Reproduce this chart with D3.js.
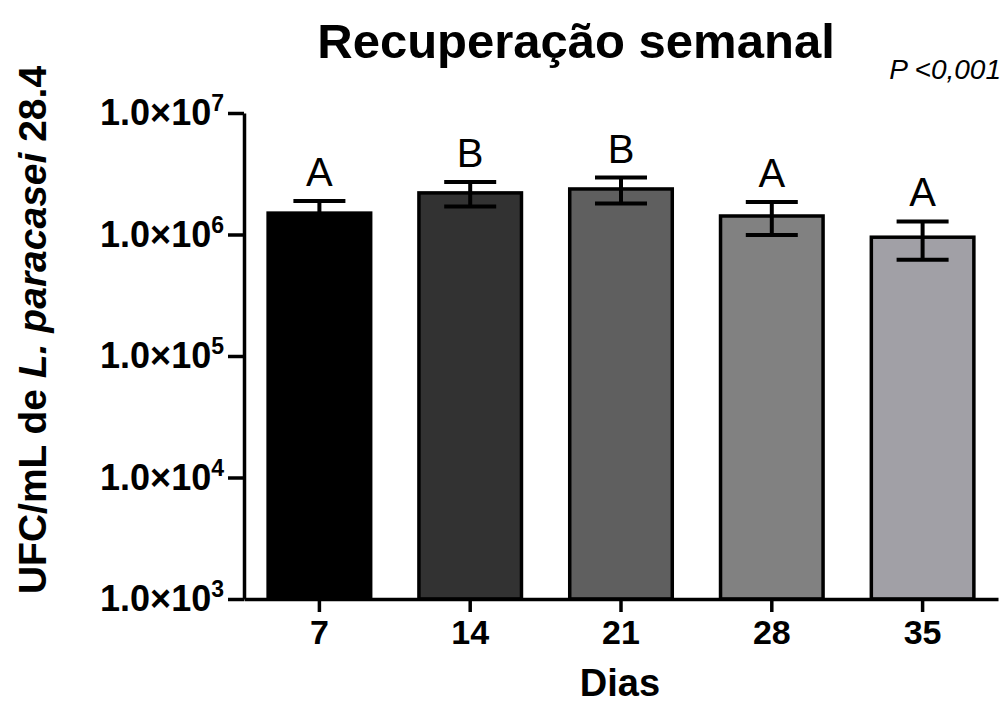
<!DOCTYPE html>
<html>
<head>
<meta charset="utf-8">
<script src="https://cdn.jsdelivr.net/npm/d3@7"></script>
<style>
  body { margin: 0; background: #fff; }
  svg { font-family: "Liberation Sans", Arial, sans-serif; }
</style>
</head>
<body>
<div id="grafico"></div>
<script>
// ----- datos -----
const dias = ["7", "14", "21", "28", "35"];
const medias = [1.50e6, 2.20e6, 2.37e6, 1.42e6, 0.95e6];
const desvios = [0.39e6, 0.50e6, 0.57e6, 0.43e6, 0.33e6];
const letras = ["A", "B", "B", "A", "A"];
const cores = ["#000000", "#323232", "#5f5f5f", "#818181", "#a1a0a6"];
const potencias = [3, 4, 5, 6, 7];

const width = 1003, height = 706;
const margin = { left: 244, right: 5, top: 113, bottom: 107 };

const svg = d3.select("#grafico")
  .append("svg")
  .attr("width", width)
  .attr("height", height);

const xScale = d3.scaleBand()
  .domain(dias)
  .range([margin.left, width - margin.right])
  .paddingInner(0.32)
  .paddingOuter(0.16);

const yScale = d3.scaleLog()
  .domain([1e3, 1e7])
  .range([height - margin.bottom, margin.top]);

// barras
svg.selectAll("rect.barra")
  .data(dias)
  .enter()
  .append("rect")
  .attr("class", "barra")
  .attr("x", d => xScale(d))
  .attr("y", (d, i) => yScale(medias[i]))
  .attr("width", xScale.bandwidth())
  .attr("height", (d, i) => yScale(1e3) - yScale(medias[i]))
  .attr("fill", (d, i) => cores[i])
  .attr("stroke", "#000")
  .attr("stroke-width", 3.5);

// barras de erro
const capW = 26;
dias.forEach((d, i) => {
  const cx = xScale(d) + xScale.bandwidth() / 2;
  const yTop = yScale(medias[i] + desvios[i]);
  const yBot = yScale(medias[i] - desvios[i]);
  const g = svg.append("g").attr("stroke", "#000").attr("stroke-width", 4);
  g.append("line").attr("x1", cx).attr("x2", cx).attr("y1", yTop).attr("y2", yBot);
  g.append("line").attr("x1", cx - capW).attr("x2", cx + capW).attr("y1", yTop).attr("y2", yTop);
  g.append("line").attr("x1", cx - capW).attr("x2", cx + capW).attr("y1", yBot).attr("y2", yBot);

  svg.append("text")
    .attr("x", cx)
    .attr("y", yTop - 15)
    .attr("text-anchor", "middle")
    .attr("font-size", 40)
    .text(letras[i]);
});

// eixo x
const eixoX = svg.append("g")
  .attr("transform", `translate(0, ${height - margin.bottom})`)
  .call(d3.axisBottom(xScale).tickSize(13).tickSizeOuter(0).tickPadding(8));
eixoX.select(".domain").attr("stroke-width", 3.5);
eixoX.selectAll(".tick line").attr("stroke-width", 3.5);
eixoX.selectAll(".tick text")
  .attr("font-size", 34)
  .attr("font-weight", "bold")
  .attr("font-family", "Liberation Sans, Arial, sans-serif")
  .attr("fill", "#000");

// eixo y
const eixoY = svg.append("g")
  .attr("transform", `translate(${margin.left}, 0)`)
  .call(d3.axisLeft(yScale).tickValues(potencias.map(p => Math.pow(10, p))).tickSize(16).tickSizeOuter(0).tickFormat(""));
eixoY.select(".domain").attr("stroke-width", 3.5);
eixoY.selectAll(".tick line").attr("stroke-width", 3.5);

const rotulosY = svg.selectAll("text.rotuloY")
  .data(potencias)
  .enter()
  .append("text")
  .attr("class", "rotuloY")
  .attr("x", margin.left - 20)
  .attr("y", p => yScale(Math.pow(10, p)) + 12)
  .attr("text-anchor", "end")
  .attr("font-size", 36)
  .attr("font-weight", "bold");
rotulosY.append("tspan").text("1.0×10");
rotulosY.append("tspan")
  .attr("font-size", 23)
  .attr("dy", -14)
  .text(p => p);

// titulo
svg.append("text")
  .attr("x", 576)
  .attr("y", 58)
  .attr("text-anchor", "middle")
  .attr("font-size", 49)
  .attr("font-weight", "bold")
  .text("Recuperação semanal");

// P valor
svg.append("text")
  .attr("x", 1001)
  .attr("y", 79)
  .attr("text-anchor", "end")
  .attr("font-size", 28)
  .attr("font-style", "italic")
  .text("P <0,001");

// titulo eixo x
svg.append("text")
  .attr("x", 620)
  .attr("y", 696)
  .attr("text-anchor", "middle")
  .attr("font-size", 38)
  .attr("font-weight", "bold")
  .text("Dias");

// titulo eixo y
const tituloY = svg.append("text")
  .attr("transform", "translate(46, 330) rotate(-90)")
  .attr("text-anchor", "middle")
  .attr("font-size", 39)
  .attr("font-weight", "bold");
tituloY.append("tspan").text("UFC/mL de ");
tituloY.append("tspan").attr("font-style", "italic").text("L. paracasei");
tituloY.append("tspan").text(" 28.4");
</script>
</body>
</html>
